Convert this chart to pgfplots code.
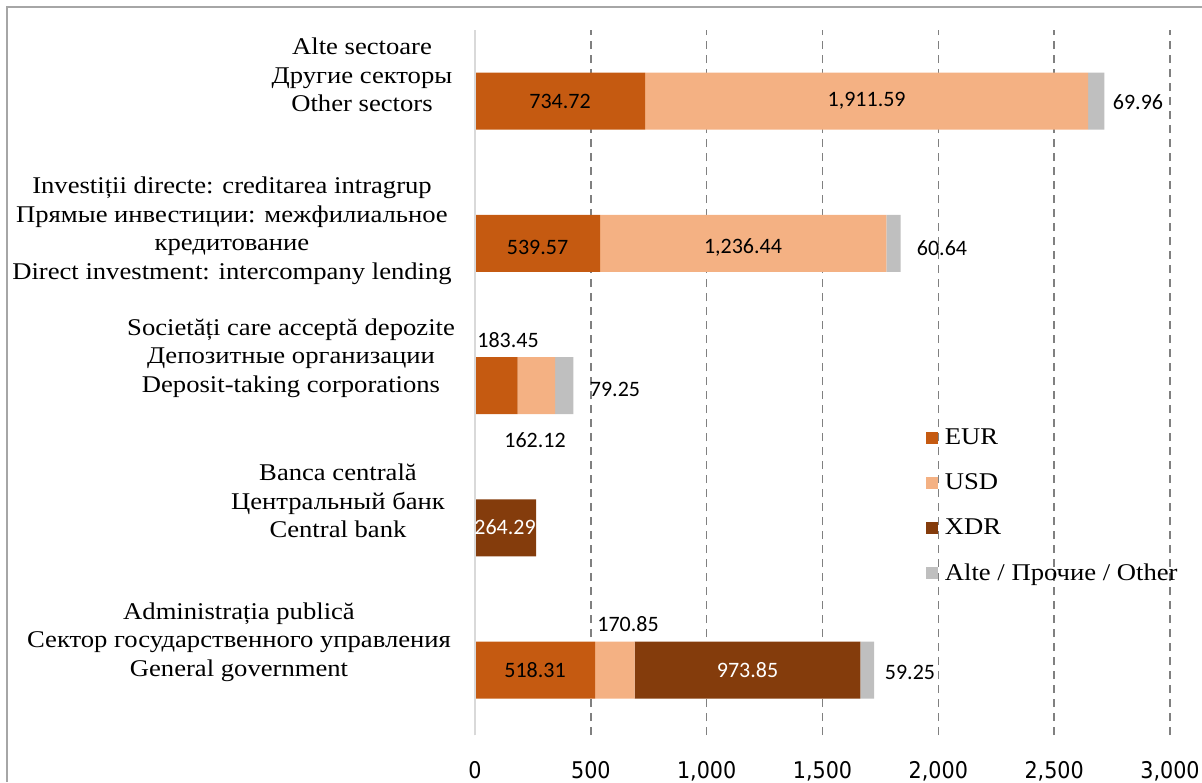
\documentclass[border=0pt]{standalone}
\usepackage{pgfplots}
\pgfplotsset{compat=1.18}
\usepackage{fontspec}
\setmainfont{Liberation Serif}[FakeStretch=1.11]
\newfontfamily\numfont{Carlito}
\newfontfamily\tickfont{DejaVu Sans Condensed}
\definecolor{eur}{HTML}{C55A11}
\definecolor{usd}{HTML}{F4B183}
\definecolor{xdr}{HTML}{843C0C}
\definecolor{oth}{HTML}{BFBFBF}
\pgfplotsset{sqlegend/.style={legend image code/.code={\fill[##1] (0pt,-6pt) rectangle (12pt,6pt); \path (17pt,0pt);}}}
\tikzset{dl/.style={font=\numfont\fontsize{22}{26}\selectfont, inner sep=0pt},
  cat/.style={align=center, font=\fontsize{24}{28.5}\selectfont, inner sep=0pt}}
\begin{document}
\begin{tikzpicture}[x=1pt,y=1pt]
\draw[gray!70, line width=1.2pt] (7,-782) -- (7,-7) -- (1202,-7);
\begin{axis}[
  at={(475pt,-735pt)}, anchor=south west,
  scale only axis, width=695pt, height=705pt,
  xbar stacked, bar width=57pt,
  xmin=0, xmax=3000, ymin=-0.457, ymax=4.5,
  xtick={0,500,...,3000}, ytick=\empty,
  xmajorgrids, major grid style={gray, line width=1.6pt, dash pattern=on 8pt off 6pt},
  axis line style={draw=none},
  major tick length=0pt,
  /pgf/number format/assume math mode=true,
  /pgf/number format/1000 sep={,},
  xticklabel style={font=\tickfont\fontsize{23}{26}\selectfont, yshift=-23pt},
  legend style={at={(0.6485,0.437)}, anchor=north west, draw=none, fill=none,
    font=\fontsize{24}{26}\selectfont, row sep=23.7pt, inner sep=0pt},
  legend cell align=left,
  sqlegend,
]
\addplot[fill=eur, draw=none] coordinates {(518.31,0) (0,1) (183.45,2) (539.57,3) (734.72,4)};
\addplot[fill=usd, draw=none] coordinates {(170.85,0) (0,1) (162.12,2) (1236.44,3) (1911.59,4)};
\addplot[fill=xdr, draw=none] coordinates {(973.85,0) (264.29,1) (0,2) (0,3) (0,4)};
\addplot[fill=oth, draw=none] coordinates {(59.25,0) (0,1) (79.25,2) (60.64,3) (69.96,4)};
\legend{EUR, USD, XDR, Alte / Прочие / Other}
\end{axis}
\draw[gray!30, line width=1.6pt] (475,-735) -- (475,-30);
\node[dl] at (560,-101) {734.72};
\node[dl] at (866.6,-101) {1,911.59};
\node[dl] at (1138,-102) {69.96};
\node[dl] at (537.5,-247) {539.57};
\node[dl] at (743,-247) {1,236.44};
\node[dl] at (942,-248) {60.64};
\node[dl] at (508,-340) {183.45};
\node[dl] at (535,-440) {162.12};
\node[dl] at (615,-389) {79.25};
\node[dl, white] at (505,-527) {264.29};
\node[dl] at (535,-670) {518.31};
\node[dl] at (628,-624) {170.85};
\node[dl, white] at (747.5,-670) {973.85};
\node[dl] at (910,-672) {59.25};
\node[cat] at (362,-75) {Alte sectoare\\Другие секторы\\Other sectors};
\node[cat] at (232,-231) {Investiții directe: creditarea intragrup\\Прямые инвестиции: межфилиальное\\кредитование\\Direct investment: intercompany lending};
\node[cat] at (291,-358) {Societăți care acceptă depozite\\Депозитные организации\\Deposit-taking corporations};
\node[cat] at (338,-501) {Banca centrală\\Центральный банк\\Central bank};
\node[cat] at (239,-642) {Administrația publică\\Сектор государственного управления\\General government};
\pgfresetboundingbox
\path[use as bounding box] (0,0) rectangle (1202,-782);
\end{tikzpicture}
\end{document}
